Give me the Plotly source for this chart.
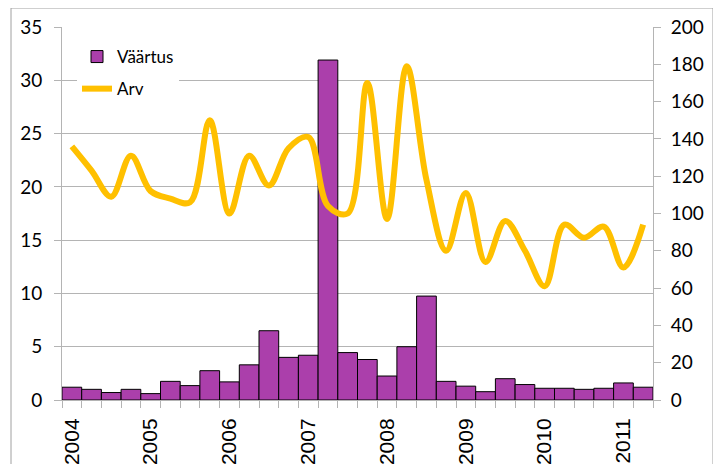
import plotly.graph_objects as go

# ---- data (quarterly, 2004 Q1 .. 2011 Q2) ----
years = ["2004", "2005", "2006", "2007", "2008", "2009", "2010", "2011"]
vaartus = [1.2, 1.0, 0.7, 1.0, 0.6, 1.75, 1.35, 2.75, 1.7, 3.3,
           6.5, 4.0, 4.2, 31.9, 4.45, 3.8, 2.25, 5.0, 9.75, 1.75,
           1.3, 0.78, 2.0, 1.45, 1.1, 1.1, 1.0, 1.1, 1.6, 1.2]
arv = [136, 123, 109, 131, 112, 108, 106, 150, 100, 131,
       115, 135, 141, 104, 100, 170, 97, 179, 118, 80,
       111, 74, 96, 80, 61, 94, 87, 93, 71, 94]

n = len(vaartus)
xs = list(range(n))

# page body has an 8px margin: figure coords = screen coords - 8
OFF = 8
W, H = 721 - OFF, 464 - OFF
ML, MR, MT, MB = 62 - OFF, 68, 27 - OFF, 64
pw = W - ML - MR
ph = H - MT - MB


def px_x(sx):
    return (sx - OFF - ML) / pw


def px_y(sy):
    return (H - MB - (sy - OFF)) / ph


fig = go.Figure()
fig.add_trace(go.Bar(
    x=xs, y=vaartus, name="Väärtus", width=1.0,
    marker=dict(color="#AB3FAB", line=dict(color="#000000", width=1)),
    legendgroup="a", yaxis="y",
))
fig.add_trace(go.Scatter(
    x=xs, y=arv, name="Arv", mode="lines",
    line=dict(color="#FFC000", width=6, shape="spline", smoothing=1.0),
    legendgroup="b", yaxis="y2",
))

grid = "#B4B4B4"
fig.update_layout(
    width=W, height=H,
    margin=dict(l=ML, r=MR, t=MT, b=MB, autoexpand=False),
    paper_bgcolor="white", plot_bgcolor="white",
    font=dict(family="Lato, Open Sans, sans-serif", color="#000000"),
    showlegend=True,
    legend=dict(
        x=px_x(77), y=px_y(39), xanchor="left", yanchor="top",
        bgcolor="white", font=dict(size=17, family="Lato"),
        traceorder="grouped", tracegroupgap=7, itemwidth=30,
    ),
    xaxis=dict(
        range=[-0.5, n - 0.5], showgrid=False, zeroline=False,
        tickvals=[i * 4 for i in range(len(years))], ticktext=years,
        ticks="", tickangle=-90, ticklabelstandoff=9,
        tickfont=dict(family="Liberation Sans, Arial", size=21),
        showline=True, linecolor=grid, linewidth=1, automargin=False,
        minor=dict(tickvals=[i - 0.5 for i in range(n + 1)], ticks="outside",
                   ticklen=7, tickcolor=grid, tickwidth=1),
    ),
    yaxis=dict(
        range=[0, 35], dtick=5, showgrid=True, gridcolor=grid, gridwidth=1,
        zeroline=False, showline=True, linecolor=grid, linewidth=1,
        ticks="outside", ticklen=7, tickcolor=grid, automargin=False,
        tickfont=dict(size=19, family="Lato"), ticklabelstandoff=8,
    ),
    yaxis2=dict(
        range=[0, 200], dtick=20, overlaying="y", side="right",
        showgrid=False, zeroline=False, showline=True, linecolor=grid,
        linewidth=1, ticks="outside", ticklen=7, tickcolor=grid,
        automargin=False,
        tickfont=dict(size=19, family="Lato"), ticklabelstandoff=6,
    ),
    shapes=[dict(
        type="rect", xref="paper", yref="paper",
        x0=px_x(11), x1=px_x(713),
        y0=px_y(490), y1=px_y(8),
        line=dict(color="#A0A0A0", width=1), fillcolor="rgba(0,0,0,0)",
        layer="below",
    )],
)

fig.write_html("out.html")
